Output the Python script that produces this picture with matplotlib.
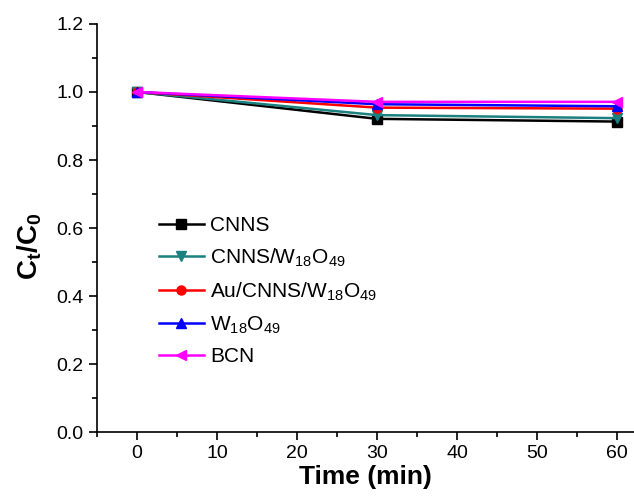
import numpy as np
import matplotlib.pyplot as plt
from matplotlib.ticker import MultipleLocator

plt.rcParams['font.family'] = ['Liberation Sans', 'DejaVu Sans']
plt.rcParams['mathtext.fontset'] = 'custom'
plt.rcParams['mathtext.rm'] = 'Liberation Sans'
plt.rcParams['mathtext.bf'] = 'Liberation Sans:bold'

# irradiation time (min)
time = [0, 30, 60]

# Ct/C0 for each sample
cnns = [1.0, 0.921, 0.913]
cnns_w18o49 = [1.0, 0.932, 0.923]
au_cnns_w18o49 = [1.0, 0.954, 0.951]
w18o49 = [1.0, 0.964, 0.958]
bcn = [1.0, 0.971, 0.971]

series = [
    (cnns, 'CNNS', 'black', 's'),
    (cnns_w18o49, r'CNNS/W$_{18}$O$_{49}$', '#1a8080', 'v'),
    (au_cnns_w18o49, r'Au/CNNS/W$_{18}$O$_{49}$', 'red', 'o'),
    (w18o49, r'W$_{18}$O$_{49}$', 'blue', '^'),
    (bcn, 'BCN', 'magenta', '<'),
]

fig = plt.figure(figsize=(6.34, 4.99), dpi=100)
ax = fig.add_axes([0.153, 0.134, 0.847, 0.818])

for vals, lab, col, mk in series:
    ax.plot(time, vals, color=col, marker=mk, markersize=6.5, lw=1.8, label=lab)

ax.set_xlim(-5, 62.1)
ax.set_ylim(0, 1.2)
ax.xaxis.set_major_locator(MultipleLocator(10))
ax.xaxis.set_minor_locator(MultipleLocator(5))
ax.yaxis.set_major_locator(MultipleLocator(0.2))
ax.yaxis.set_minor_locator(MultipleLocator(0.1))
ax.yaxis.set_major_formatter(plt.FuncFormatter(lambda v, p: f'{v:.1f}'))

for s in ['top', 'right']:
    ax.spines[s].set_visible(False)
for s in ['left', 'bottom']:
    ax.spines[s].set_linewidth(1.2)

ax.tick_params(which='major', direction='out', length=6, width=1.2, labelsize=14)
ax.tick_params(which='minor', direction='out', length=3.5, width=1.2)

ax.set_xlabel('Time (min)', fontsize=19, fontweight='bold', labelpad=2)
ax.set_ylabel(r'$\mathbf{C_t/C_0}$', fontsize=20)
ax.yaxis.set_label_coords(-0.099, 0.455)

ax.legend(loc='upper left', bbox_to_anchor=(0.115, 0.53), frameon=False,
          borderpad=0, borderaxespad=0,
          fontsize=15, handlelength=2.15, handletextpad=0.3, labelspacing=0.55)

fig.savefig('out.png', dpi=100)
